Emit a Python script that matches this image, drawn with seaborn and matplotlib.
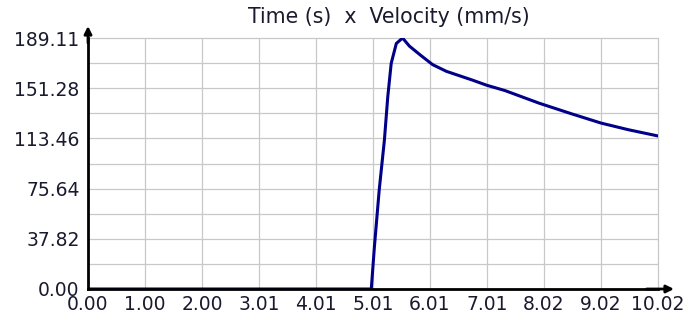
import matplotlib
matplotlib.use("Agg")
import matplotlib.pyplot as plt
import seaborn as sns
import numpy as np
import pandas as pd

# ---- data ----
time_s = [0, 4.98, 5.035, 5.12, 5.21, 5.27, 5.33, 5.42, 5.53, 5.65, 5.85, 6.06,
          6.3, 6.75, 7.01, 7.33, 7.93, 8.5, 9.02, 9.5, 10.02]
velocity = [0, 0, 32, 75, 112, 145, 170, 185, 189.1, 183, 176, 169,
            164, 157.5, 153.5, 149.5, 140, 132, 125, 120, 115.3]
x_ticks = [0.00, 1.002, 2.004, 3.006, 4.008, 5.01, 6.012, 7.014, 8.016, 9.018, 10.02]
x_tick_labels = ["0.00", "1.00", "2.00", "3.01", "4.01", "5.01", "6.01", "7.01", "8.02", "9.02", "10.02"]
y_ticks = [0.00, 37.82, 75.64, 113.46, 151.28, 189.11]
y_tick_labels = ["0.00", "37.82", "75.64", "113.46", "151.28", "189.11"]
title = "Time (s)  x  Velocity (mm/s)"

df = pd.DataFrame({"time": time_s, "velocity": velocity})

sns.set_style("white")
plt.rcParams['font.family'] = ['DejaVu Sans']

fig = plt.figure(figsize=(6.89, 3.25), dpi=100)
ax = fig.add_axes([88/689, 1-289/325, 570/689, 251/325])

sns.lineplot(data=df, x="time", y="velocity", ax=ax, color="#000088", linewidth=2.2)

ax.set_xlim(0, 10.02)
ax.set_ylim(0, 189.11)
ax.set_xticks(x_ticks)
ax.set_xticklabels(x_tick_labels)
ax.set_yticks(y_ticks)
ax.set_yticklabels(y_tick_labels)
minor_y = [(a + b) / 2 for a, b in zip(y_ticks[:-1], y_ticks[1:])]
ax.set_yticks(minor_y, minor=True)
ax.set_xlabel("")
ax.set_ylabel("")

ax.grid(True, which="both", axis="y", color="#c8c8c8", linewidth=0.9)
ax.grid(True, which="major", axis="x", color="#c8c8c8", linewidth=0.9)
ax.set_axisbelow(True)
for gl in ax.get_xgridlines() + ax.get_ygridlines():
    gl.set_clip_on(False)

for s in ["top", "right"]:
    ax.spines[s].set_visible(False)
for s in ["left", "bottom"]:
    ax.spines[s].set_color("black")
    ax.spines[s].set_linewidth(2.0)

ax.tick_params(axis="y", which="both", direction="out", length=6, width=1.6,
               color="black", labelsize=13.5, pad=0, labelcolor="#1a1a2e")
ax.tick_params(axis="x", which="major", direction="out", length=3, width=1.6,
               color="black", labelsize=13.5, pad=1, labelcolor="#1a1a2e")

# axis arrows
ax.annotate("", xy=(0, 1 + 12/251), xytext=(0, 0.98), xycoords="axes fraction",
            arrowprops=dict(arrowstyle="-|>", color="black", lw=2.0,
                            mutation_scale=11, shrinkA=0, shrinkB=0))
ax.annotate("", xy=(1 + 16/570, 0), xytext=(0.98, 0), xycoords="axes fraction",
            arrowprops=dict(arrowstyle="-|>", color="black", lw=2.0,
                            mutation_scale=11, shrinkA=0, shrinkB=0))

fig.text(389/689, 1 - 17/325, title, ha="center", va="center", fontsize=14.8,
         color="#1a1a2e")

fig.savefig("out.png", dpi=100)
